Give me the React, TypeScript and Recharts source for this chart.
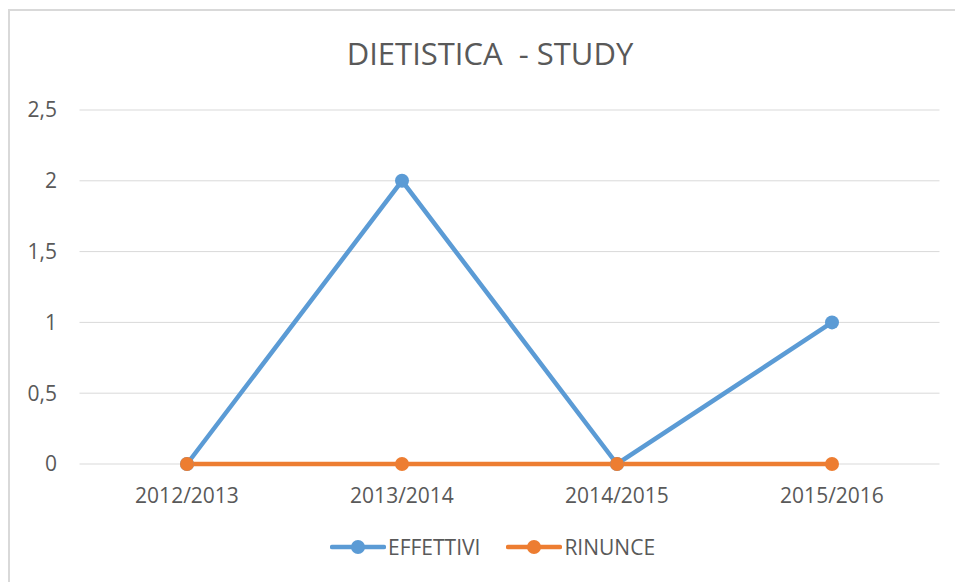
import React from "react";
import {
  CartesianGrid,
  Legend,
  Line,
  LineChart,
  XAxis,
  YAxis,
} from "recharts";

const anni = ["2012/2013", "2013/2014", "2014/2015", "2015/2016"];
const effettivi = [0, 2, 0, 1];
const rinunce = [0, 0, 0, 0];
const yTicks = [0, 0.5, 1, 1.5, 2, 2.5];

const FONT = "'Open Sans', sans-serif";
const TEXT = "#595959";
const BLU = "#5B9BD5";
const ARANCIO = "#ED7D31";

const data = anni.map((anno, i) => ({
  anno,
  EFFETTIVI: effettivi[i],
  RINUNCE: rinunce[i],
}));

const series = [
  { key: "EFFETTIVI", color: BLU },
  { key: "RINUNCE", color: ARANCIO },
];

function LegendContent() {
  return (
    <div style={{ display: "flex", alignItems: "center", height: 24 }}>
      {series.map((s, i) => (
        <div
          key={s.key}
          style={{
            display: "flex",
            alignItems: "center",
            marginLeft: i === 0 ? 0 : 26,
          }}
        >
          <svg width={56} height={18}>
            <line
              x1={2}
              y1={9}
              x2={54}
              y2={9}
              stroke={s.color}
              strokeWidth={4.5}
              strokeLinecap="round"
            />
            <circle cx={28} cy={9} r={7} fill={s.color} />
          </svg>
          <span
            style={{
              marginLeft: 2,
              fontSize: 21,
              color: TEXT,
              fontFamily: FONT,
              lineHeight: "24px",
            }}
          >
            {s.key}
          </span>
        </div>
      ))}
    </div>
  );
}

export default function App() {
  return (
    <div
      style={{
        position: "fixed",
        left: 0,
        top: 0,
        width: 955,
        height: 582,
        background: "#fff",
        overflow: "hidden",
        fontFamily: FONT,
      }}
    >
      <div
        style={{
          position: "absolute",
          left: 8,
          top: 9,
          width: 980,
          height: 600,
          border: "2px solid #d9d9d9",
        }}
      />
      <div
        style={{
          position: "absolute",
          left: 0,
          top: 38,
          width: 980,
          textAlign: "center",
          fontSize: 31,
          lineHeight: "31px",
          color: TEXT,
          whiteSpace: "pre",
        }}
      >
        DIETISTICA  - STUDY
      </div>
      <div style={{ position: "absolute", left: 0, top: 0 }}>
        <LineChart
          width={955}
          height={582}
          data={data}
          margin={{ top: 110, right: 15.5, bottom: 64, left: 19.5 }}
        >
          <CartesianGrid vertical={false} stroke="#d9d9d9" strokeWidth={1} />
          <XAxis
            dataKey="anno"
            height={30}
            axisLine={false}
            tickLine={false}
            tickSize={6}
            tickMargin={18}
            padding={{ left: 0, right: 0 }}
            tick={{ fill: TEXT, fontSize: 21, fontFamily: FONT }}
            scale="band"
          />
          <YAxis
            width={60}
            domain={[0, 2.5]}
            ticks={yTicks}
            axisLine={false}
            tickLine={false}
            tickSize={6}
            tickMargin={16.5}
            tickFormatter={(v: number) => String(v).replace(".", ",")}
            tick={{ fill: TEXT, fontSize: 21, fontFamily: FONT }}
          />
          <Legend
            content={<LegendContent />}
            wrapperStyle={{ top: 535, bottom: "auto", left: 330, width: 400 }}
          />
          {series.map((s) => (
            <Line
              key={s.key}
              dataKey={s.key}
              type="linear"
              stroke={s.color}
              strokeWidth={4.5}
              dot={{ r: 7, fill: s.color, stroke: s.color, strokeWidth: 0 }}
              activeDot={false}
              isAnimationActive={false}
            />
          ))}
        </LineChart>
      </div>
    </div>
  );
}
